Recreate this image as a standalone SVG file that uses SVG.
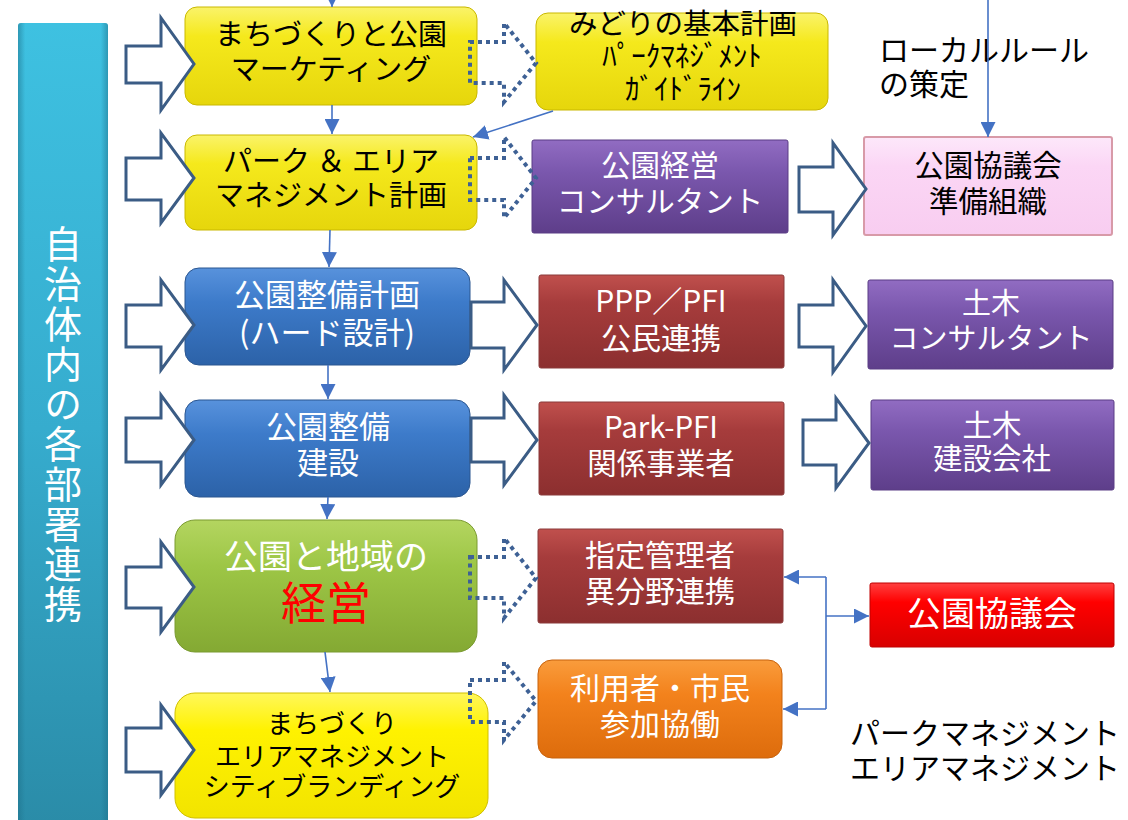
<svg xmlns="http://www.w3.org/2000/svg" width="1128" height="820" viewBox="0 0 1128 820">
<style>
.t{font-family:'Noto Sans CJK JP','Noto Sans',sans-serif;text-anchor:middle}
.l{font-family:'Noto Sans CJK JP','Noto Sans',sans-serif;text-anchor:start;fill:#000}
.v{font-family:'Noto Sans CJK JP','Noto Sans',sans-serif;writing-mode:vertical-rl;text-anchor:start;fill:#fff}
.w{fill:#fff}
.k{fill:#000}
.blk{fill:#fff;stroke:#3b5c85;stroke-width:3;stroke-linejoin:miter}
.dot{fill:none;stroke:#3e6195;stroke-width:4;stroke-dasharray:4 4}
.ln{fill:none;stroke:#4472c4;stroke-width:1.6}
.yel{fill:url(#gY);stroke:#c9b800;stroke-width:1}
.yel2{fill:url(#gY2);stroke:#d0c000;stroke-width:1}
.blu{fill:url(#gB);stroke:#2b5690;stroke-width:1}
.red{fill:url(#gR);stroke:#8a3a3a;stroke-width:1}
.pur{fill:url(#gP);stroke:#5a3c85;stroke-width:1}
.grn{fill:url(#gG);stroke:#7a9a30;stroke-width:1}
.org{fill:url(#gO);stroke:#c8620c;stroke-width:1}
.rr{fill:url(#gRR);stroke:#c00000;stroke-width:1}
.pnk{fill:url(#gK);stroke:#d89aa8;stroke-width:2}
</style>
<defs>
<linearGradient id="gY" x1="0" y1="0" x2="0" y2="1"><stop offset="0" stop-color="#faf36a"/><stop offset="0.3" stop-color="#f5e91c"/><stop offset="1" stop-color="#e6d60c"/></linearGradient>
<linearGradient id="gY2" x1="0" y1="0" x2="0" y2="1"><stop offset="0" stop-color="#fff75a"/><stop offset="0.3" stop-color="#fff200"/><stop offset="1" stop-color="#f2e400"/></linearGradient>
<linearGradient id="gB" x1="0" y1="0" x2="0" y2="1"><stop offset="0" stop-color="#5892dc"/><stop offset="0.35" stop-color="#3d7bca"/><stop offset="1" stop-color="#2c62a8"/></linearGradient>
<linearGradient id="gR" x1="0" y1="0" x2="0" y2="1"><stop offset="0" stop-color="#c0504d"/><stop offset="0.3" stop-color="#a63c3c"/><stop offset="1" stop-color="#8c2f2f"/></linearGradient>
<linearGradient id="gP" x1="0" y1="0" x2="0" y2="1"><stop offset="0" stop-color="#916cc2"/><stop offset="0.35" stop-color="#7a57ad"/><stop offset="1" stop-color="#5e3e8a"/></linearGradient>
<linearGradient id="gG" x1="0" y1="0" x2="0" y2="1"><stop offset="0" stop-color="#b4d560"/><stop offset="0.35" stop-color="#9dc646"/><stop offset="1" stop-color="#84a933"/></linearGradient>
<linearGradient id="gO" x1="0" y1="0" x2="0" y2="1"><stop offset="0" stop-color="#f99c3c"/><stop offset="0.35" stop-color="#f3821c"/><stop offset="1" stop-color="#dd6c0c"/></linearGradient>
<linearGradient id="gRR" x1="0" y1="0" x2="0" y2="1"><stop offset="0" stop-color="#ff4040"/><stop offset="0.3" stop-color="#ff0000"/><stop offset="1" stop-color="#d80000"/></linearGradient>
<linearGradient id="gK" x1="0" y1="0" x2="0" y2="1"><stop offset="0" stop-color="#fde8fa"/><stop offset="0.3" stop-color="#fbd6f5"/><stop offset="1" stop-color="#f8cdf0"/></linearGradient>
<linearGradient id="gT" x1="0" y1="0" x2="0" y2="1"><stop offset="0" stop-color="#3ec1e1"/><stop offset="0.5" stop-color="#36acce"/><stop offset="1" stop-color="#2a8ba7"/></linearGradient>
<linearGradient id="gTe" x1="0" y1="0" x2="1" y2="0"><stop offset="0" stop-color="#1d6f88" stop-opacity="0.5"/><stop offset="0.08" stop-color="#1d6f88" stop-opacity="0"/><stop offset="0.92" stop-color="#1d6f88" stop-opacity="0"/><stop offset="1" stop-color="#1d6f88" stop-opacity="0.5"/></linearGradient>
<marker id="ah" viewBox="0 0 10 10" refX="10" refY="5" markerUnits="userSpaceOnUse" markerWidth="15" markerHeight="15" orient="auto"><path d="M0,0 L10,5 L0,10 z" fill="#4472c4"/></marker>
</defs>
<rect width="1128" height="820" fill="#fff"/>

<g id="bar">
<rect x="18" y="23" width="90" height="810" rx="3" fill="url(#gT)"/>
<rect x="18" y="23" width="90" height="810" rx="3" fill="url(#gTe)"/>
<text class="v" x="63" y="225" font-size="38" letter-spacing="2">自治体内の各部署連携</text>
</g>

<g id="node-marketing">
<rect class="yel" x="185" y="7" width="292" height="98" rx="12"/>
<text class="t k" font-size="29"><tspan x="331" y="45">まちづくりと公園</tspan><tspan x="331" y="80">マーケティング</tspan></text>
</g>
<g id="node-midori">
<rect class="yel" x="536" y="13" width="292" height="97" rx="12"/>
<text class="t k" font-size="28.5"><tspan x="683" y="34">みどりの基本計画</tspan></text>
<text class="t k" font-size="29"><tspan x="682" y="67">ﾊﾟｰｸﾏﾈｼﾞﾒﾝﾄ</tspan><tspan x="683" y="100">ｶﾞｲﾄﾞﾗｲﾝ</tspan></text>
</g>
<g id="node-pam">
<rect class="yel" x="185" y="135" width="292" height="95" rx="12"/>
<text class="t k" font-size="29"><tspan x="331" y="172">パーク ＆ エリア</tspan><tspan x="331" y="206">マネジメント計画</tspan></text>
</g>
<g id="node-consult">
<rect class="pur" x="532" y="140" width="256" height="93" rx="2"/>
<text class="t w" font-size="29.5"><tspan x="660" y="176">公園経営</tspan><tspan x="660" y="212">コンサルタント</tspan></text>
</g>
<g id="node-prep">
<rect class="pnk" x="864" y="137" width="248" height="98" rx="2"/>
<text class="t k" font-size="29.5"><tspan x="988" y="176">公園協議会</tspan><tspan x="988" y="212">準備組織</tspan></text>
</g>
<g id="node-plan">
<rect class="blu" x="185" y="268" width="285" height="97" rx="14"/>
<text class="t w" font-size="31"><tspan x="327" y="306">公園整備計画</tspan><tspan x="327" y="344">(ハード設計)</tspan></text>
</g>
<g id="node-ppp">
<rect class="red" x="539" y="275" width="245" height="93" rx="2"/>
<text class="t w" font-size="30"><tspan x="661" y="312">PPP／PFI</tspan><tspan x="661" y="349">公民連携</tspan></text>
</g>
<g id="node-civil-consult">
<rect class="pur" x="868" y="280" width="245" height="89" rx="2"/>
<text class="t w" font-size="29"><tspan x="991" y="314">土木</tspan><tspan x="991" y="349">コンサルタント</tspan></text>
</g>
<g id="node-build">
<rect class="blu" x="185" y="400" width="285" height="97" rx="14"/>
<text class="t w" font-size="31"><tspan x="328" y="438">公園整備</tspan><tspan x="328" y="474">建設</tspan></text>
</g>
<g id="node-parkpfi">
<rect class="red" x="539" y="402" width="245" height="93" rx="2"/>
<text class="t w" font-size="29.5"><tspan x="661" y="438">Park-PFI</tspan><tspan x="661" y="474">関係事業者</tspan></text>
</g>
<g id="node-civil-build">
<rect class="pur" x="871" y="400" width="243" height="90" rx="2"/>
<text class="t w" font-size="29.5"><tspan x="992" y="436">土木</tspan><tspan x="992" y="469">建設会社</tspan></text>
</g>
<g id="node-manage">
<rect class="grn" x="175" y="520" width="302" height="132" rx="20"/>
<text class="t w" font-size="34"><tspan x="326" y="569">公園と地域の</tspan></text>
<text class="t" font-size="45" fill="#ff0000"><tspan x="326" y="620">経営</tspan></text>
</g>
<g id="node-shitei">
<rect class="red" x="538" y="529" width="245" height="94" rx="2"/>
<text class="t w" font-size="30"><tspan x="660" y="566">指定管理者</tspan><tspan x="660" y="602">異分野連携</tspan></text>
</g>
<g id="node-council">
<rect class="rr" x="870" y="583" width="244" height="64" rx="2"/>
<text class="t w" font-size="34"><tspan x="992" y="626">公園協議会</tspan></text>
</g>
<g id="node-machi">
<rect class="yel2" x="175" y="693" width="313" height="125" rx="20"/>
<text class="t k" font-size="26"><tspan x="332" y="733">まちづくり</tspan><tspan x="332" y="766">エリアマネジメント</tspan><tspan x="332" y="796">シティブランディング</tspan></text>
</g>
<g id="node-citizen">
<rect class="org" x="538" y="660" width="244" height="98" rx="14"/>
<text class="t w" font-size="30"><tspan x="660" y="699">利用者・市民</tspan><tspan x="660" y="735">参加協働</tspan></text>
</g>

<g id="label-localrule">
<text class="l" font-size="30"><tspan x="879" y="61">ローカルルール</tspan><tspan x="879" y="95">の策定</tspan></text>
</g>
<g id="label-management">
<text class="l" font-size="30"><tspan x="850" y="744">パークマネジメント</tspan><tspan x="850" y="779">エリアマネジメント</tspan></text>
</g>

<g id="connectors">
<polygon class="blk" points="126,46 161,46 161,18 194,64 161,110 161,83 126,83"/>
<polygon class="blk" points="126,158 161,158 161,133 194,178 161,223 161,200 126,200"/>
<polygon class="blk" points="126,305 161,305 161,280 194,325 161,370 161,347 126,347"/>
<polygon class="blk" points="126,418 161,418 161,395 194,440 161,485 161,462 126,462"/>
<polygon class="blk" points="126,567 161,567 161,542 194,587 161,632 161,608 126,608"/>
<polygon class="blk" points="126,728 161,728 161,705 194,750 161,795 161,772 126,772"/>
<polygon class="blk" points="471,302 504,302 504,280 537,325 504,370 504,348 471,348"/>
<polygon class="blk" points="471,418 504,418 504,395 537,440 504,485 504,462 471,462"/>
<polygon class="blk" points="799,167 833,167 833,143 866,189 833,235 833,212 799,212"/>
<polygon class="blk" points="799,305 833,305 833,280 866,326 833,372 833,347 799,347"/>
<polygon class="blk" points="803,420 836,420 836,398 869,443 836,488 836,465 803,465"/>
<polygon class="dot" points="470,42 504,42 504,23 536,63 504,102 504,83 470,83"/>
<polygon class="dot" points="470,158 504,158 504,137 536,178 504,218 504,200 470,200"/>
<polygon class="dot" points="470,557 504,557 504,538 536,578 504,618 504,598 470,598"/>
<polygon class="dot" points="470,680 504,680 504,662 536,701 504,740 504,722 470,722"/>
<line class="ln" x1="332" y1="-10" x2="332" y2="7" marker-end="url(#ah)"/>
<line class="ln" x1="332" y1="105" x2="332" y2="134" marker-end="url(#ah)"/>
<line class="ln" x1="553" y1="111" x2="473" y2="137" marker-end="url(#ah)"/>
<line class="ln" x1="330" y1="230" x2="329" y2="267" marker-end="url(#ah)"/>
<line class="ln" x1="328" y1="365" x2="328" y2="399" marker-end="url(#ah)"/>
<line class="ln" x1="328" y1="497" x2="327" y2="519" marker-end="url(#ah)"/>
<line class="ln" x1="325" y1="652" x2="330" y2="692" marker-end="url(#ah)"/>
<line class="ln" x1="988" y1="-5" x2="988" y2="137" marker-end="url(#ah)"/>
<polyline class="ln" points="826,577 826,709"/>
<line class="ln" x1="826" y1="577" x2="784" y2="577" marker-end="url(#ah)"/>
<line class="ln" x1="826" y1="709" x2="783" y2="709" marker-end="url(#ah)"/>
<line class="ln" x1="826" y1="616" x2="869" y2="616" marker-end="url(#ah)"/>
</g>
</svg>
